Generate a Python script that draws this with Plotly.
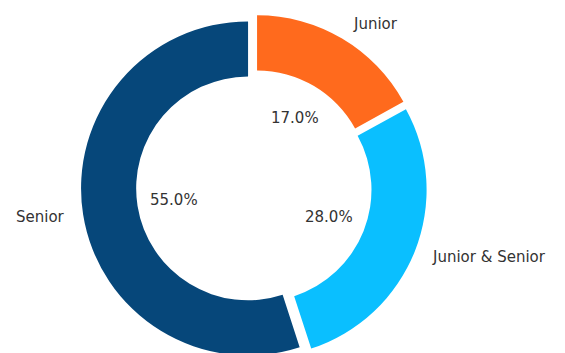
import numpy as np
import plotly.graph_objects as go

# Share of roles
labels = ["Junior", "Junior & Senior", "Senior"]
values = [17.0, 28.0, 55.0]
colors = ["#ff6a1d", "#0abfff", "#06477a"]

W, H = 565, 362
CX, CY, R = 254.0, 187.5, 167.0   # pie centre and radius in pixels
PULL = 0.036                       # explode, as a fraction of the radius
HOLE = 0.67
LABEL_DIST = 1.1
PCT_DIST = 0.45
FONT = dict(family="DejaVu Sans", size=15, color="#333333")

half = R * (1 + PULL)
domain_x = [CX / W - 0.4, CX / W + 0.4]
domain_y = [1 - (CY + half) / H, 1 - (CY - half) / H]

fig = go.Figure(
    go.Pie(
        labels=labels,
        values=values,
        sort=False,
        direction="clockwise",
        rotation=0,
        hole=HOLE,
        pull=[PULL] * len(values),
        marker=dict(colors=colors, line=dict(width=0)),
        textinfo="none",
        hoverinfo="label+percent",
        showlegend=False,
        domain=dict(x=domain_x, y=domain_y),
    )
)

# Slice labels and percentages, placed along each slice's mid-angle
fracs = np.array(values) / np.sum(values)
mids = (np.cumsum(fracs) - fracs / 2) * 2 * np.pi   # clockwise from 12 o'clock
annotations = []
for lab, f, m in zip(labels, fracs, mids):
    dx, dy = np.sin(m), -np.cos(m)
    off = PULL * R
    lx = CX + (off + LABEL_DIST * R) * dx
    ly = CY + (off + LABEL_DIST * R) * dy
    px = CX + (off + PCT_DIST * R) * dx
    py = CY + (off + PCT_DIST * R) * dy
    annotations.append(dict(
        x=lx / W, y=1 - ly / H, xref="paper", yref="paper",
        text=lab, showarrow=False, font=FONT,
        xanchor="left" if dx > 0 else "right", yanchor="middle",
    ))
    annotations.append(dict(
        x=px / W, y=1 - py / H, xref="paper", yref="paper",
        text=f"{f * 100:.1f}%", showarrow=False, font=FONT,
        xanchor="center", yanchor="middle",
    ))

fig.update_layout(
    width=W,
    height=H,
    autosize=False,
    margin=dict(l=0, r=0, t=0, b=0),
    paper_bgcolor="white",
    plot_bgcolor="white",
    annotations=annotations,
)

fig.write_html("out.html")
